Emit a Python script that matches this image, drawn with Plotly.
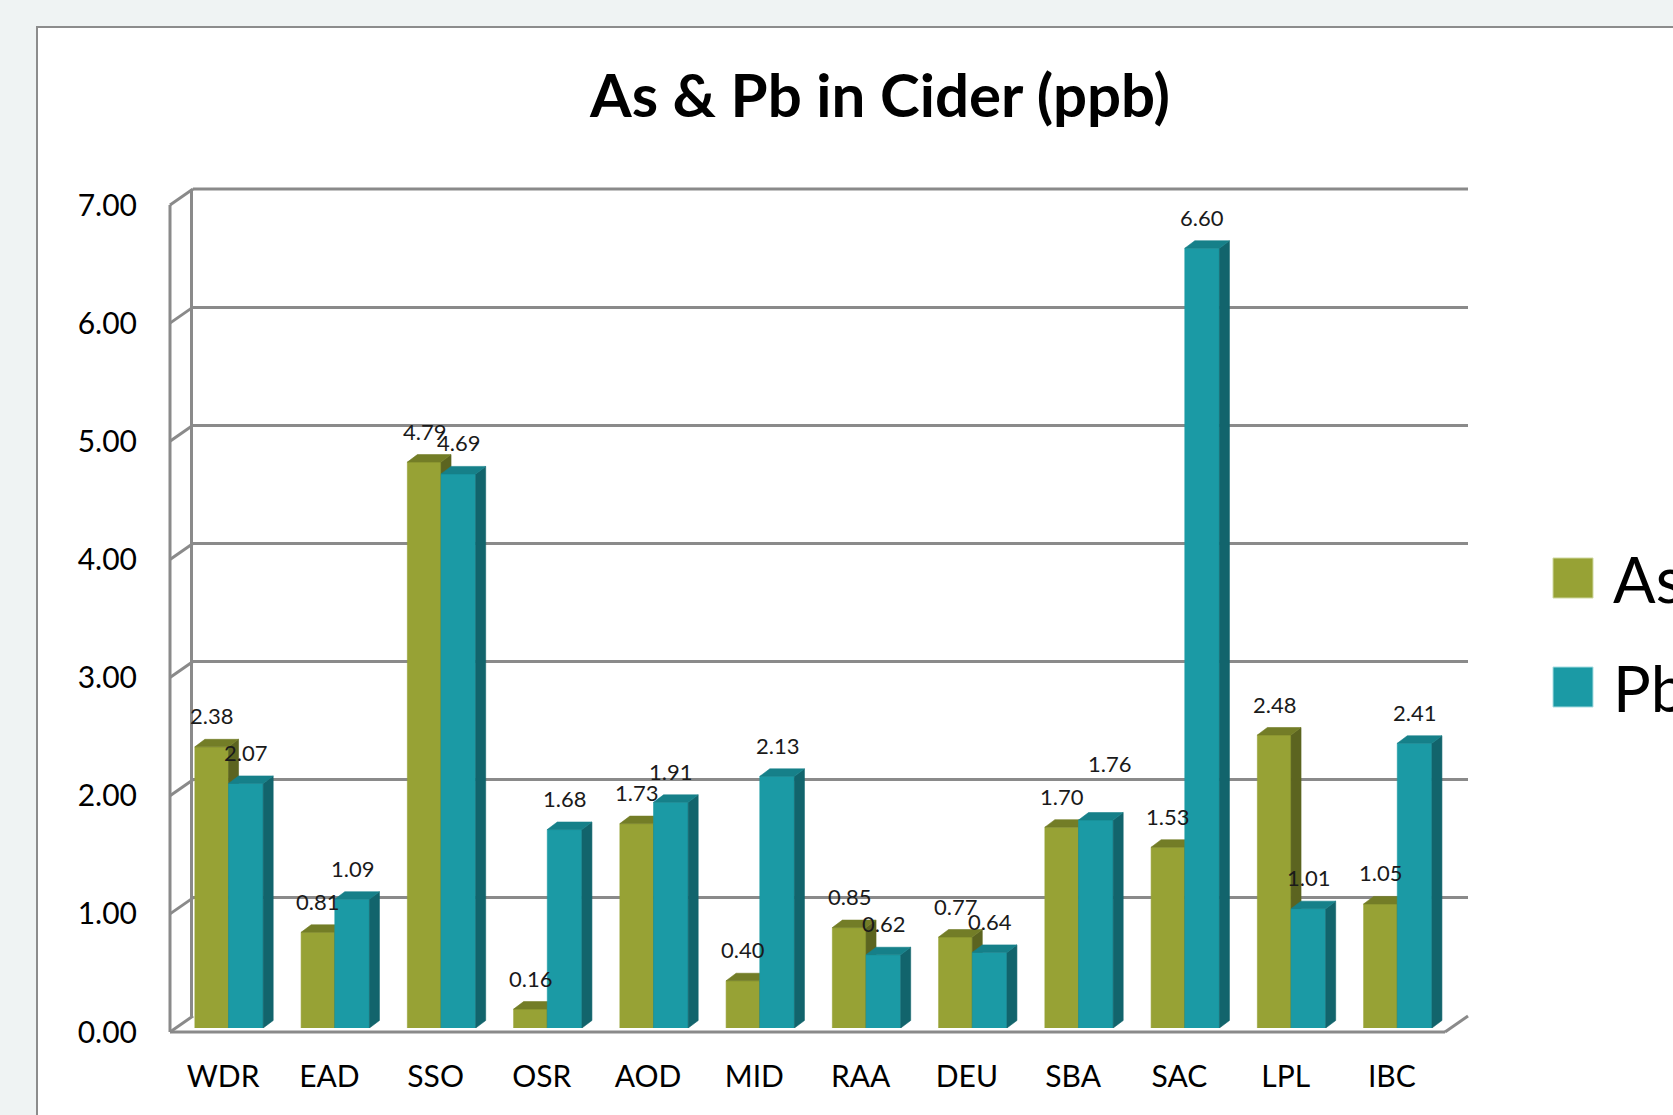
import plotly.graph_objects as go

categories = ["WDR", "EAD", "SSO", "OSR", "AOD", "MID", "RAA", "DEU", "SBA", "SAC", "LPL", "IBC"]
as_values = [2.38, 0.81, 4.79, 0.16, 1.73, 0.40, 0.85, 0.77, 1.70, 1.53, 2.48, 1.05]
pb_values = [2.07, 1.09, 4.69, 1.68, 1.91, 2.13, 0.62, 0.64, 1.76, 6.60, 1.01, 2.41]
y_ticks = [0, 1, 2, 3, 4, 5, 6, 7]

# label nudges (pixels) where the original moved a label away from its default spot
label_nudge = {("Pb", "SBA"): (14, 26)}

W, H = 1673, 1115
FONT = "Lato"

# colours (front, top, side)
AS_COL = ("#97a235", "#737d27", "#5c6420")
PB_COL = ("#1b9aa5", "#168089", "#12646c")
GRID = "#8a8a8a"

# layout geometry (pixels)
FX0, FX1 = 170, 1445          # front plane x extent
BX0, BX1 = 193, 1468          # back wall x extent
BAR_Y0, BAR_Y7 = 1028, 201    # bar plane y for 0 and 7
BACK_Y0, BACK_Y7 = 1016, 189  # back wall y for 0 and 7
FRONT_Y0, FRONT_Y7 = 1032, 205

px = lambda x: x / W
py = lambda y: 1 - y / H

cat_w = (FX1 - FX0) / len(categories)
unit_h = (BAR_Y0 - BAR_Y7) / 7.0
DX = 10 / cat_w      # depth offset in category units
DY = 7.5 / unit_h    # depth offset in value units

AS_OFF = (-0.266, 0.051)
PB_OFF = (0.051, 0.377)


def faces(values, off):
    front_x, front_y, top_x, top_y, side_x, side_y = [], [], [], [], [], []
    for i, v in enumerate(values):
        xl, xr = i + off[0], i + off[1]
        front_x += [xl, xr, xr, xl, xl, None]
        front_y += [0, 0, v, v, 0, None]
        top_x += [xl, xr, xr + DX, xl + DX, xl, None]
        top_y += [v, v, v + DY, v + DY, v, None]
        side_x += [xr, xr + DX, xr + DX, xr, xr, None]
        side_y += [0, DY, v + DY, v, 0, None]
    return (front_x, front_y), (top_x, top_y), (side_x, side_y)


fig = go.Figure()
# dummy trace for the back-wall subplot
fig.add_trace(go.Scatter(x=[], y=[], xaxis="x", yaxis="y", showlegend=False, hoverinfo="skip"))

for name, vals, off, cols in [("As", as_values, AS_OFF, AS_COL), ("Pb", pb_values, PB_OFF, PB_COL)]:
    front, top, side = faces(vals, off)
    for (xs, ys), col in [(front, cols[0]), (side, cols[2]), (top, cols[1])]:
        fig.add_trace(go.Scatter(
            x=xs, y=ys, mode="lines", fill="toself", fillcolor=col,
            line=dict(color=col, width=0.6), xaxis="x2", yaxis="y2",
            showlegend=False, hoverinfo="skip", name=name,
        ))

# data labels
annotations = []
for name, vals, off in [("As", as_values, AS_OFF), ("Pb", pb_values, PB_OFF)]:
    for i, v in enumerate(vals):
        nx, ny = label_nudge.get((name, categories[i]), (0, 0))
        annotations.append(dict(
            x=i + (off[0] + off[1]) / 2, y=v, xref="x2", yref="y2",
            text=f"{v:.2f}", showarrow=False, yanchor="middle", yshift=31 + ny, xshift=nx,
            font=dict(family=FONT, size=22, color="#1a1a1a"),
        ))

# legend (manual)
legend_items = [("As", AS_COL[0], 578), ("Pb", PB_COL[0], 687)]
shapes = [
    dict(type="rect", xref="paper", yref="paper", x0=px(37), x1=px(1700), y0=py(1140), y1=py(27),
         fillcolor="white", line=dict(color="#8c8c8c", width=2), layer="below"),
]
for label, col, cy in legend_items:
    shapes.append(dict(type="rect", xref="paper", yref="paper", x0=px(1553), x1=px(1593),
                       y0=py(cy + 20), y1=py(cy - 20), fillcolor=col,
                       line=dict(color="#cfd8a0" if label == "As" else "#a8dde2", width=1), layer="above"))
    annotations.append(dict(x=px(1611), y=py(cy), xref="paper", yref="paper", text=label,
                            showarrow=False, xanchor="left", yanchor="middle",
                            font=dict(family=FONT, size=63, color="#000000")))

# front axis lines, back-wall top edge and perspective connectors
line_style = dict(color=GRID, width=3)
shapes.append(dict(type="line", xref="paper", yref="paper", x0=px(FX0), x1=px(FX0),
                   y0=py(FRONT_Y0), y1=py(FRONT_Y7), line=line_style, layer="below"))
shapes.append(dict(type="line", xref="paper", yref="paper", x0=px(FX0), x1=px(FX1),
                   y0=py(FRONT_Y0), y1=py(FRONT_Y0), line=line_style, layer="below"))
shapes.append(dict(type="line", xref="paper", yref="paper", x0=px(FX1), x1=px(BX1),
                   y0=py(FRONT_Y0), y1=py(BACK_Y0), line=line_style, layer="below"))
shapes.append(dict(type="line", xref="paper", yref="paper", x0=px(BX0), x1=px(BX1),
                   y0=py(BACK_Y7), y1=py(BACK_Y7), line=line_style, layer="below"))
for t in y_ticks:
    fy = FRONT_Y0 - t * (FRONT_Y0 - FRONT_Y7) / 7
    by = BACK_Y0 - t * (BACK_Y0 - BACK_Y7) / 7
    shapes.append(dict(type="line", xref="paper", yref="paper", x0=px(FX0), x1=px(BX0),
                       y0=py(fy), y1=py(by), line=line_style, layer="below"))

annotations.append(dict(x=px(879), y=py(94), xref="paper", yref="paper", text="<b>As &amp; Pb in Cider (ppb)</b>",
                        showarrow=False, xanchor="center", yanchor="middle",
                        font=dict(family=FONT, size=60, color="#000000")))

fig.update_layout(
    template="none",
    width=W, height=H,
    margin=dict(l=0, r=0, t=0, b=0, pad=0, autoexpand=False),
    paper_bgcolor="#eff3f3",
    plot_bgcolor="rgba(0,0,0,0)",
    showlegend=False,
    shapes=shapes,
    annotations=annotations,
    xaxis=dict(domain=[px(BX0), px(BX1)], anchor="y", range=[0, 1], showgrid=False, automargin=False,
               zeroline=False, showticklabels=False, showline=False, ticks="", fixedrange=True),
    yaxis=dict(domain=[py(BACK_Y0), py(BACK_Y7)], anchor="x", range=[0, 7], dtick=1, automargin=False,
               showgrid=True, gridcolor=GRID, gridwidth=3, zeroline=False, ticks="",
               showticklabels=False, showline=True, linecolor=GRID, linewidth=3, fixedrange=True),
    xaxis2=dict(domain=[px(FX0), px(FX1)], anchor="y2", range=[-0.5, len(categories) - 0.5],
                tickvals=list(range(len(categories))), ticktext=categories, automargin=False,
                showgrid=False, zeroline=False, showline=False, ticks="",
                ticklabelstandoff=28,
                tickfont=dict(family=FONT, size=30, color="#000000"), fixedrange=True),
    yaxis2=dict(domain=[py(BAR_Y0), py(BAR_Y7)], anchor="x2", range=[0, 7], automargin=False,
                tickvals=y_ticks, tickformat=".2f",
                showgrid=False, zeroline=False, showline=False, ticks="",
                ticklabelstandoff=32, ticklabelshift=4,
                tickfont=dict(family=FONT, size=30, color="#000000"), fixedrange=True),
)

fig.write_html("out.html", config={"displayModeBar": False},
               post_script="document.body.style.margin='0';document.body.style.overflow='hidden';")
